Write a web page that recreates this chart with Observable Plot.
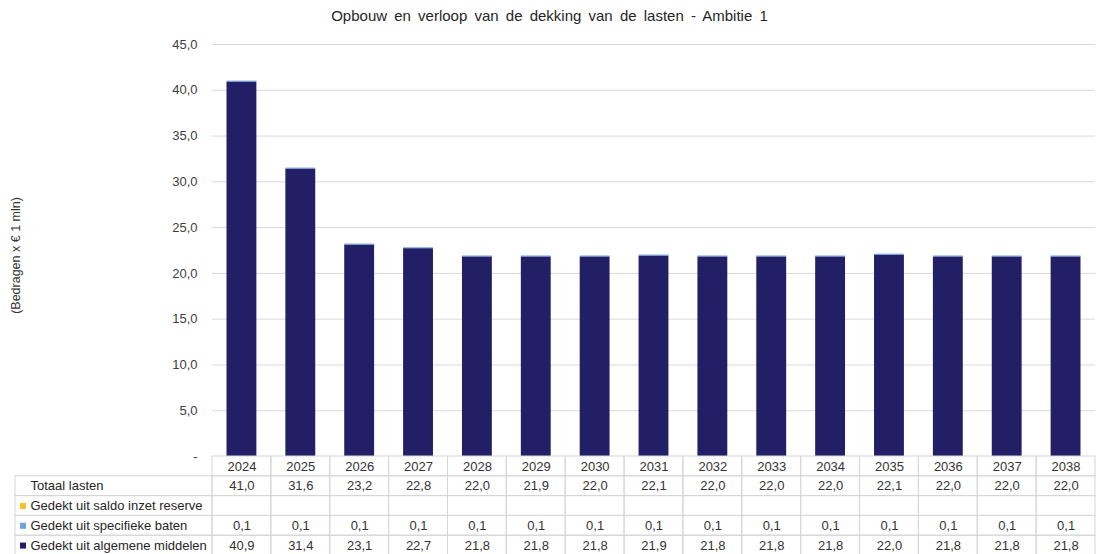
<!DOCTYPE html>
<html>
<head>
<meta charset="utf-8">
<script src="https://cdn.jsdelivr.net/npm/d3@7"></script>
<script src="https://cdn.jsdelivr.net/npm/@observablehq/plot@0.6"></script>
<style>
  html, body { margin: 0; padding: 0; background: #fff; overflow: hidden; }
  body { width: 1099px; height: 554px; position: relative; font-family: "Liberation Sans", Arial, sans-serif; }
  #title { position: absolute; left: 0; top: 0; width: 1099px; height: 30px; line-height: 31px; text-align: center; font-size: 15px; word-spacing: 3px; color: #262626; }
  #bars { position: absolute; left: 0; top: 30px; }
  #table { position: absolute; left: 0; top: 456px; }
  svg { overflow: visible; }
</style>
</head>
<body>
<div id="title">Opbouw en verloop van de dekking van de lasten - Ambitie 1</div>
<div id="bars"></div>
<div id="table"></div>
<script>
const years = [2024, 2025, 2026, 2027, 2028, 2029, 2030, 2031, 2032, 2033, 2034, 2035, 2036, 2037, 2038];
const totaalLasten = [41.0, 31.6, 23.2, 22.8, 22.0, 21.9, 22.0, 22.1, 22.0, 22.0, 22.0, 22.1, 22.0, 22.0, 22.0];
const saldoReserve = [null, null, null, null, null, null, null, null, null, null, null, null, null, null, null];
const specifiekeBaten = [0.1, 0.1, 0.1, 0.1, 0.1, 0.1, 0.1, 0.1, 0.1, 0.1, 0.1, 0.1, 0.1, 0.1, 0.1];
const algemeneMiddelen = [40.9, 31.4, 23.1, 22.7, 21.8, 21.8, 21.8, 21.9, 21.8, 21.8, 21.8, 22.0, 21.8, 21.8, 21.8];
const yTicks = [0, 5, 10, 15, 20, 25, 30, 35, 40, 45];

const seriesNames = ["Gedekt uit algemene middelen", "Gedekt uit specifieke baten", "Gedekt uit saldo inzet reserve"];
const seriesColors = ["#221f66", "#6fa3dc", "#f2c12e"];
const seriesValues = [algemeneMiddelen, specifiekeBaten, saldoReserve];

const W = 1099, ML = 212, MR = 4;
const textColor = "#333333";
const fmt = v => v == null ? "" : d3.format(".1f")(v).replace(".", ",");

// long data for stacked bars
const stacked = [];
seriesNames.forEach((s, si) => years.forEach((y, i) => {
  const v = seriesValues[si][i];
  if (v != null) stacked.push({year: y, series: s, value: v});
}));

const bars = Plot.plot({
  width: W, height: 436,
  marginLeft: ML, marginRight: MR, marginTop: 14, marginBottom: 10,
  style: {fontFamily: "Liberation Sans, Arial, sans-serif", fontSize: "13px", color: textColor, background: "transparent"},
  x: {type: "band", domain: years, padding: 0, round: false, axis: null},
  y: {domain: [0, 45], ticks: yTicks, axis: null},
  color: {domain: seriesNames, range: seriesColors},
  marks: [
    Plot.ruleY(yTicks.filter(d => d > 0), {stroke: "#d9d9d9", strokeWidth: 1}),
    Plot.axisY({ticks: yTicks, tickSize: 0, tickPadding: 15, label: null, fill: "#404040", fontSize: 13,
      tickFormat: d => d === 0 ? "-" : fmt(d)}),
    Plot.barY(stacked, {x: "year", y: "value", fill: "series", order: seriesNames, insetLeft: 14.5, insetRight: 14.5}),
    Plot.text(["(Bedragen x \u20AC 1 mln)"], {frameAnchor: "left", textAnchor: "middle", dx: -197, dy: 5, rotate: -90, fontSize: 12.5, fill: "#333333", text: d => d})
  ]
});
document.getElementById("bars").appendChild(bars);

// table
const rowKeys = ["year", "Totaal lasten", seriesNames[2], seriesNames[1], seriesNames[0]];
const rowLabels = [
  {key: "Totaal lasten", label: "Totaal lasten", color: null},
  {key: seriesNames[2], label: "Gedekt uit saldo inzet reserve", color: seriesColors[2]},
  {key: seriesNames[1], label: "Gedekt uit specifieke baten", color: seriesColors[1]},
  {key: seriesNames[0], label: "Gedekt uit algemene middelen", color: seriesColors[0]}
];
const cells = [];
years.forEach((y, i) => {
  cells.push({year: y, row: "year", text: String(y)});
  cells.push({year: y, row: "Totaal lasten", text: fmt(totaalLasten[i])});
  cells.push({year: y, row: seriesNames[2], text: fmt(saldoReserve[i])});
  cells.push({year: y, row: seriesNames[1], text: fmt(specifiekeBaten[i])});
  cells.push({year: y, row: seriesNames[0], text: fmt(algemeneMiddelen[i])});
});
const colW = (W - ML - MR) / years.length;

const table = Plot.plot({
  width: W, height: 99,
  marginLeft: ML, marginRight: MR, marginTop: 0, marginBottom: 0,
  style: {fontFamily: "Liberation Sans, Arial, sans-serif", fontSize: "13px", color: textColor, background: "transparent"},
  x: {type: "band", domain: years, padding: 0, round: false, axis: null},
  y: {type: "band", domain: rowKeys, padding: 0, round: false, axis: null},
  marks: [
    Plot.cell(cells, {x: "year", y: "row", fill: "none", stroke: "#d6d6d6"}),
    Plot.cell(rowLabels, {x: () => years[0], y: "key", fill: "none", stroke: "#d6d6d6", insetLeft: -(ML - 15), insetRight: colW}),
    Plot.text(cells, {x: "year", y: "row", text: "text", fill: textColor, fontSize: 13}),
    Plot.text(rowLabels, {y: "key", text: "label", frameAnchor: "left", dx: -(ML - 30), textAnchor: "start", fill: "#262626", fontSize: 13}),
    Plot.dot(rowLabels.filter(d => d.color), {y: "key", frameAnchor: "left", dx: -(ML - 22.5), symbol: "square", r: 3.4, fill: "color", stroke: null})
  ]
});
document.getElementById("table").appendChild(table);
</script>
</body>
</html>
